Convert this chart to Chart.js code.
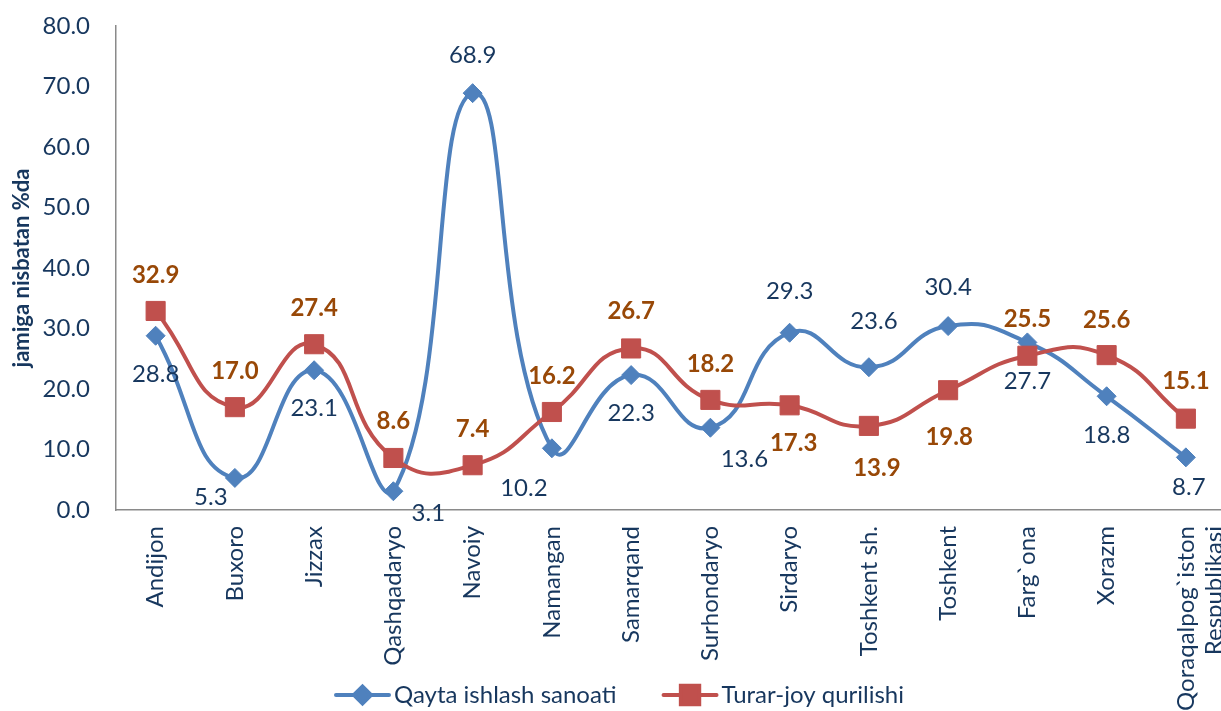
<!DOCTYPE html>
<html><head><meta charset="utf-8">
<script src="https://cdn.jsdelivr.net/npm/chart.js@4.4.0/dist/chart.umd.min.js"></script>
<style>html,body{margin:0;padding:0;overflow:hidden;background:#fff}
#wrap{position:relative;width:1240px;height:711px}</style>
</head><body><div id="wrap"><canvas id="c" width="1240" height="711"></canvas></div>
<script>
// ---- data ----
const categories = ['Andijon','Buxoro','Jizzax','Qashqadaryo','Navoiy','Namangan','Samarqand','Surhondaryo','Sirdaryo','Toshkent sh.','Toshkent','Farg`ona','Xorazm',['Qoraqalpog`iston','Respublikasi']];
const qaytaIshlash = [28.8,5.3,23.1,3.1,68.9,10.2,22.3,13.6,29.3,23.6,30.4,27.7,18.8,8.7];
const turarJoy = [32.9,17.0,27.4,8.6,7.4,16.2,26.7,18.2,17.3,13.9,19.8,25.5,25.6,15.1];
const seriesNames = ['Qayta ishlash sanoati','Turar-joy qurilishi'];
const yMin = 0, yMax = 80, yStep = 10;
const yTitle = 'jamiga nisbatan %da';

// ---- styles ----
const NAVY = '#17375E';
const BROWN = '#984807';
const BLUE = '#4F81BD';
const RED = '#C0504D';
const AXIS = '#8A8A8A';
const FONT = 'Lato';
// label placement offsets relative to each plotted point (dx, dy in px)
const blueLabelOffsets = [[0,39],[-24,19],[0,38],[35,22],[0,-38],[-28,40],[0,38],[34,32],[0,-41],[5,-46],[0,-39],[0,39],[0,39],[3,30]];
const redLabelOffsets = [[0,-36],[0,-36],[0,-36],[0,-37],[0,-36],[0,-36],[0,-37],[0,-36],[4,38],[8,42],[1,47],[0,-36],[0,-35],[0,-37]];
const labelStyles = [
  {font: '24px ' + FONT, color: NAVY, offsets: blueLabelOffsets},
  {font: 'bold 24px ' + FONT, color: BROWN, offsets: redLabelOffsets}
];

const valueLabels = {
  id: 'valueLabels',
  afterDatasetsDraw(chart) {
    const ctx = chart.ctx;
    chart.data.datasets.forEach((ds, i) => {
      const meta = chart.getDatasetMeta(i);
      const st = labelStyles[i];
      ctx.save();
      ctx.font = st.font; ctx.fillStyle = st.color;
      ctx.textAlign = 'center'; ctx.textBaseline = 'middle';
      meta.data.forEach((el, j) => {
        const [dx, dy] = st.offsets[j];
        ctx.fillText(ds.data[j].toFixed(1), el.x + dx, el.y + dy);
      });
      ctx.restore();
    });
  }
};

const customLegend = {
  id: 'customLegend',
  afterDraw(chart) {
    const ctx = chart.ctx;
    ctx.save();
    ctx.font = '24px ' + FONT;
    const lineLen = 57, gapText = 3, gapItem = 45, centerX = 619, y = 695;
    const items = chart.data.datasets.map(ds => ({ds, w: ctx.measureText(ds.label).width}));
    let total = items.reduce((s, it) => s + lineLen + gapText + it.w, 0) + gapItem * (items.length - 1);
    let x = centerX - total / 2;
    items.forEach(it => {
      const ds = it.ds;
      ctx.strokeStyle = ds.borderColor; ctx.lineWidth = 4; ctx.lineCap = 'round';
      ctx.beginPath(); ctx.moveTo(x + 2, y); ctx.lineTo(x + lineLen - 2, y); ctx.stroke();
      ctx.fillStyle = ds.borderColor; ctx.strokeStyle = ds.borderColor;
      Chart.helpers.drawPoint(ctx, {pointStyle: ds.pointStyle, rotation: 0, radius: ds.legendRadius, borderWidth: 1}, x + lineLen / 2, y);
      ctx.fillStyle = NAVY; ctx.textAlign = 'left'; ctx.textBaseline = 'middle';
      ctx.fillText(ds.label, x + lineLen + gapText, y);
      x += lineLen + gapText + it.w + gapItem;
    });
    ctx.restore();
  }
};

new Chart(document.getElementById('c'), {
  type: 'line',
  data: {
    labels: categories,
    datasets: [
      {label: seriesNames[0], data: qaytaIshlash, borderColor: BLUE, backgroundColor: BLUE,
       pointStyle: 'rectRot', pointRadius: 9.5, pointBorderWidth: 1, pointBackgroundColor: BLUE, pointBorderColor: BLUE,
       borderWidth: 4, tension: 0.5, clip: false, order: 2, legendRadius: 8.5},
      {label: seriesNames[1], data: turarJoy, borderColor: RED, backgroundColor: RED,
       pointStyle: 'rect', pointRadius: 13.5, pointBorderWidth: 1, pointBackgroundColor: RED, pointBorderColor: RED,
       borderWidth: 4, tension: 0.5, clip: false, order: 1, legendRadius: 13}
    ]
  },
  options: {
    responsive: false, animation: false, devicePixelRatio: 1,
    layout: {padding: {left: 0, right: 6, top: 26, bottom: 0}},
    plugins: {legend: {display: false}, tooltip: {enabled: false}},
    scales: {
      x: {
        type: 'category', offset: true,
        grid: {display: false, drawTicks: false},
        border: {display: true, color: AXIS, width: 1.5},
        ticks: {autoSkip: false, maxRotation: 90, minRotation: 90, padding: 16,
                color: NAVY, font: {family: FONT, size: 24}},
        afterFit(s) { s.height = 201; s.paddingLeft = 0; s.paddingRight = 0; }
      },
      y: {
        min: yMin, max: yMax,
        grid: {display: false, drawTicks: false},
        border: {display: true, color: AXIS, width: 1.5},
        ticks: {stepSize: yStep, padding: 26, color: NAVY, font: {family: FONT, size: 24},
                callback: v => Number(v).toFixed(1)},
        title: {display: true, text: yTitle, color: NAVY, font: {family: FONT, size: 22, weight: 'bold'},
                padding: {top: 9, bottom: 0}},
        afterFit(s) { s.width = 116; s.paddingTop = 0; s.paddingBottom = 0; }
      }
    }
  },
  plugins: [valueLabels, customLegend]
});
</script></body></html>
